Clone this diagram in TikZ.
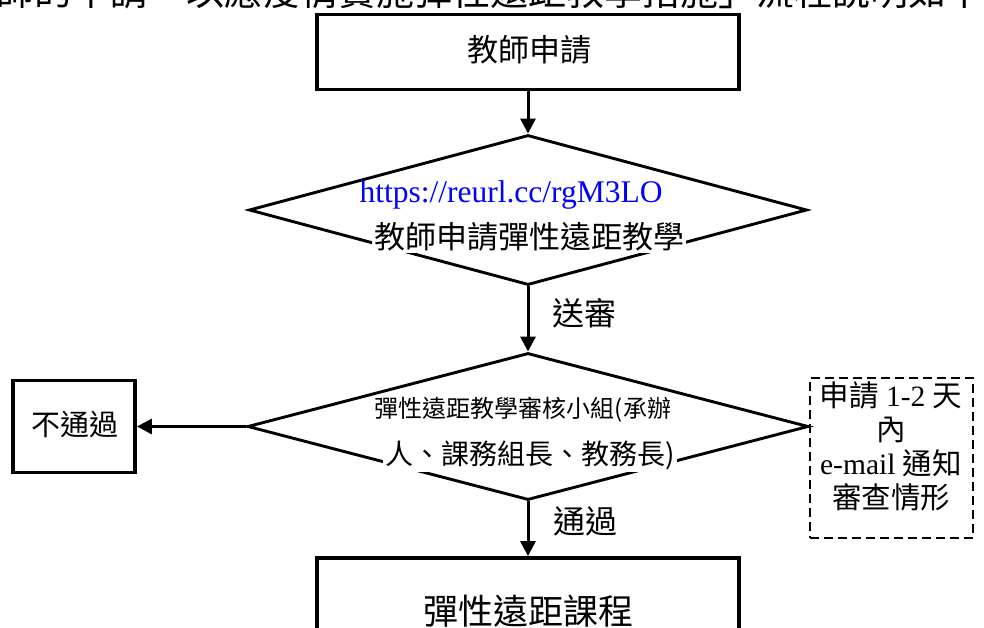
\documentclass[tikz,border=0pt]{standalone}
\usepackage{fontspec}
\setmainfont{Liberation Serif}
\newfontfamily\cjk{Noto Sans CJK TC}
\usetikzlibrary{shapes.geometric,arrows.meta}
\begin{document}
\begin{tikzpicture}[x=1pt,y=-1pt,
  procbox/.style={draw, line width=3.8pt, inner sep=0pt},
  decision/.style={diamond, draw, line width=2.9pt, inner sep=0pt},
  flow/.style={-{Triangle[length=15pt,width=15pt]}, line width=3pt},
  cjktext/.style={font=\cjk\fontsize{#1}{#1}\selectfont, inner sep=1pt},
  cjktext/.default=30,
  notebox/.style={draw, line width=1.3pt, dash pattern=on 9pt off 5pt, inner sep=0pt}
]
\useasboundingbox (0,0) rectangle (984,628);
\fill[white] (0,0) rectangle (984,628);

% clipped line of text at the very top
\begin{scope}
\clip (0,0) rectangle (984,16);
\node[cjktext=38, anchor=base west, inner sep=0pt] (hdr) at (-4,6) {師的申請，以應疫情實施彈性遠距教學措施」流程說明如下};
\end{scope}

% nodes
\node[procbox, minimum width=422pt, minimum height=75pt] (apply) at (528,52) {};
\node[cjktext=31] (applytxt) at (529,50) {教師申請};

\node[decision, minimum width=558pt, minimum height=150pt] (d1) at (528,210) {};
\node[font=\fontsize{31.5}{34}\selectfont, text=blue, inner sep=1pt] (url) at (511,195) {https://reurl.cc/rgM3LO};
\node[cjktext=31, fill=white, inner sep=2pt] (d1txt) at (529,237) {教師申請彈性遠距教學};

\node[decision, minimum width=561pt, minimum height=147pt] (d2) at (528,426.5) {};
\node[cjktext=24, fill=white] (d2a) at (523,410) {彈性遠距教學審核小組(承辦};
\node[cjktext=28, fill=white, inner sep=2pt] (d2b) at (530,455) {人、課務組長、教務長)};

\node[procbox, minimum width=122pt, minimum height=92pt] (fail) at (74,426.5) {};
\node[cjktext=29] (failtxt) at (75,425) {不通過};

\node[notebox, minimum width=163pt, minimum height=160pt] (note) at (891.5,458) {};
\node[align=center, font=\fontsize{29.5}{34}\selectfont, inner sep=0pt] (notetxt) at (891,446)
  {{\cjk 申請} 1-2 {\cjk 天}\\{\cjk 內}\\e-mail {\cjk 通知}\\{\cjk 審查情形}};

\node[procbox, minimum width=422pt, minimum height=90pt] (course) at (528,603) {};
\node[cjktext=35] (coursetxt) at (528,611) {彈性遠距課程};

% labels
\node[cjktext=32] (send) at (584,313) {送審};
\node[cjktext=32] (pass) at (585,521) {通過};

% connectors
\draw[flow] (apply.south) -- (d1.north);
\draw[flow] (d1.south) -- (d2.north);
\draw[flow] (d2.west) -- (fail.east);
\draw[flow] (d2.south) -- (course.north);
\end{tikzpicture}
\end{document}
